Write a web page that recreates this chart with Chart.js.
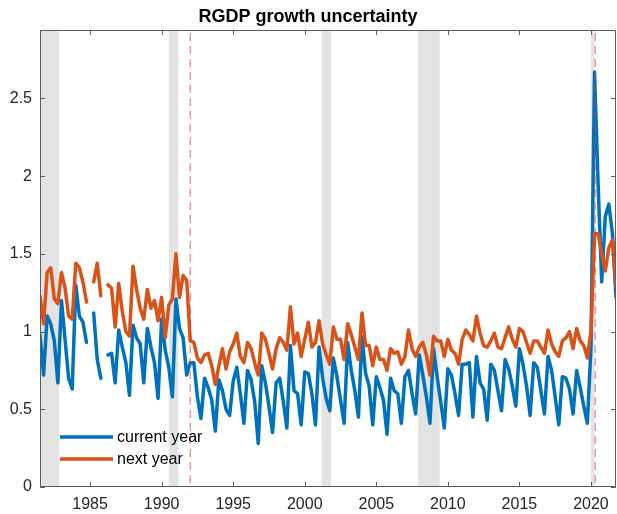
<!DOCTYPE html>
<html>
<head>
<meta charset="utf-8">
<title>RGDP growth uncertainty</title>
<script src="https://cdn.jsdelivr.net/npm/chart.js@4.4.0/dist/chart.umd.min.js"></script>
<style>
  html, body { margin: 0; padding: 0; background: #ffffff; }
  canvas { display: block; }
</style>
</head>
<body>
<canvas id="chart" width="617" height="514"></canvas>
<script>
// Quarterly observations, first one is 1981 Q3 (1981.5); null marks a missing survey.
const firstQuarter = 1981.5;

// Uncertainty about current-year real GDP growth
const currentYear = [
  0.98, 0.72,
  1.10, 1.05, 0.94, 0.67,   // 1982
  1.20, 0.95, 0.70, 0.63,   // 1983
  1.30, 1.10, 1.06, 0.93,   // 1984
  null, 1.12, 0.82, 0.70,   // 1985
  null, 0.85, 0.86, 0.67,   // 1986
  1.01, 0.90, 0.80, 0.59,   // 1987
  1.04, 0.96, 0.92, 0.67,   // 1988
  1.02, 0.90, 0.80, 0.57,   // 1989
  1.08, 0.88, 0.77, 0.58,   // 1990
  1.21, 1.02, 0.96, 0.72,   // 1991
  0.80, 0.80, 0.58, 0.44,   // 1992
  0.70, 0.64, 0.56, 0.36,   // 1993
  0.69, 0.62, 0.50, 0.46,   // 1994
  0.68, 0.77, 0.60, 0.41,   // 1995
  0.75, 0.69, 0.55, 0.28,   // 1996
  0.78, 0.67, 0.52, 0.35,   // 1997
  0.67, 0.70, 0.55, 0.38,   // 1998
  0.91, 0.62, 0.60, 0.40,   // 1999
  0.74, 0.73, 0.60, 0.40,   // 2000
  0.90, 0.70, 0.57, 0.49,   // 2001
  0.83, 0.71, 0.56, 0.41,   // 2002
  0.93, 0.75, 0.62, 0.45,   // 2003
  0.97, 0.73, 0.65, 0.40,   // 2004
  0.71, 0.64, 0.56, 0.34,   // 2005
  0.70, 0.62, 0.60, 0.41,   // 2006
  0.71, 0.75, 0.60, 0.47,   // 2007
  0.85, 0.72, 0.58, 0.41,   // 2008
  0.89, 0.71, 0.55, 0.38,   // 2009
  0.76, 0.72, 0.60, 0.46,   // 2010
  0.79, 0.79, 0.80, 0.45,   // 2011
  0.84, 0.67, 0.63, 0.43,   // 2012
  0.79, 0.75, 0.62, 0.49,   // 2013
  0.82, 0.76, 0.65, 0.52,   // 2014
  0.89, 0.79, 0.65, 0.46,   // 2015
  0.80, 0.77, 0.62, 0.47,   // 2016
  0.84, 0.75, 0.58, 0.40,   // 2017
  0.71, 0.70, 0.63, 0.47,   // 2018
  0.75, 0.64, 0.52, 0.41,   // 2019
  0.90, 2.67, 1.95, 1.32,   // 2020
  1.74, 1.82, 1.63, 1.22    // 2021
];

// Uncertainty about next-year real GDP growth
const nextYear = [
  1.23, 1.05,
  1.38, 1.41, 1.21, 1.18,   // 1982
  1.38, 1.28, 1.10, 1.08,   // 1983
  1.44, 1.41, 1.32, 1.19,   // 1984
  null, 1.32, 1.44, 1.23,   // 1985
  null, 1.30, 1.28, 1.03,   // 1986
  1.31, 1.13, 1.00, 0.97,   // 1987
  1.42, 1.27, 1.15, 1.08,   // 1988
  1.27, 1.15, 1.20, 1.07,   // 1989
  1.22, 0.96, 1.17, 1.21,   // 1990
  1.50, 1.22, 1.36, 1.33,   // 1991
  0.94, 0.93, 0.83, 0.80,   // 1992
  0.85, 0.86, 0.78, 0.66,   // 1993
  0.78, 0.89, 0.76, 0.87,   // 1994
  0.92, 0.99, 0.84, 0.80,   // 1995
  0.93, 0.89, 0.80, 0.72,   // 1996
  0.99, 0.95, 0.86, 0.76,   // 1997
  0.89, 0.96, 0.93, 0.88,   // 1998
  1.16, 0.92, 0.99, 0.84,   // 1999
  0.95, 1.06, 0.90, 0.93,   // 2000
  1.07, 0.92, 0.85, 0.79,   // 2001
  1.03, 0.95, 0.95, 0.82,   // 2002
  1.05, 0.98, 0.90, 0.82,   // 2003
  1.12, 0.91, 0.91, 0.78,   // 2004
  0.90, 0.82, 0.82, 0.75,   // 2005
  0.89, 0.86, 0.87, 0.79,   // 2006
  0.84, 1.01, 0.89, 0.84,   // 2007
  0.90, 0.93, 0.85, 0.72,   // 2008
  0.97, 0.94, 0.94, 0.84,   // 2009
  0.95, 0.88, 0.86, 0.79,   // 2010
  0.95, 1.01, 0.98, 0.94,   // 2011
  1.10, 0.99, 0.91, 0.90,   // 2012
  0.94, 0.99, 0.90, 0.89,   // 2013
  0.96, 1.03, 0.95, 0.90,   // 2014
  1.02, 1.00, 0.93, 0.86,   // 2015
  0.94, 0.94, 0.90, 0.86,   // 2016
  1.01, 0.92, 0.87, 0.84,   // 2017
  0.94, 0.96, 1.00, 0.89,   // 2018
  1.02, 0.94, 0.91, 0.83,   // 2019
  1.00, 1.63, 1.63, 1.50,   // 2020
  1.39, 1.54, 1.59, 1.29    // 2021
];

const seriesLabels = ['current year', 'next year'];
const seriesColors = ['#0072BD', '#D95319'];

const xTickYears = [1985, 1990, 1995, 2000, 2005, 2010, 2015, 2020];
const yTickValues = [0, 0.5, 1, 1.5, 2, 2.5];

// NBER recession periods (shaded)
const recessionStart = [1981.5, 1990.5, 2001.17, 2007.92, 2020.0];
const recessionEnd   = [1982.83, 1991.17, 2001.83, 2009.42, 2020.25];

// Dates marked with dashed vertical lines
const markerDates = [1992.0, 2020.3];

const FONT = "'Liberation Sans', Arial, Helvetica, sans-serif";
const AXIS_COLOR = '#262626';
const BOX_COLOR = '#5c5c5c';

const quarterDates = currentYear.map((_, i) => firstQuarter + i * 0.25);
const toPoints = values => quarterDates.map((x, i) => ({ x: x, y: values[i] }));

// Shaded recession bands behind the lines
const recessionBands = {
  id: 'recessionBands',
  beforeDatasetsDraw(chart) {
    const { ctx, chartArea: a, scales: { x } } = chart;
    ctx.save();
    ctx.fillStyle = '#e3e3e3';
    recessionStart.forEach((s, i) => {
      const x0 = Math.max(x.getPixelForValue(s), a.left);
      const x1 = Math.min(x.getPixelForValue(recessionEnd[i]), a.right);
      ctx.fillRect(x0, a.top, x1 - x0, a.bottom - a.top);
    });
    ctx.restore();
  }
};

// Dashed vertical marker lines over the series
const markerLines = {
  id: 'markerLines',
  afterDatasetsDraw(chart) {
    const { ctx, chartArea: a, scales: { x } } = chart;
    ctx.save();
    ctx.strokeStyle = 'rgba(235, 50, 50, 0.5)';
    ctx.lineWidth = 1.5;
    ctx.setLineDash([8, 5]);
    markerDates.forEach(d => {
      const px = x.getPixelForValue(d);
      ctx.beginPath();
      ctx.moveTo(px, a.top + 3);
      ctx.lineTo(px, a.bottom);
      ctx.stroke();
    });
    ctx.restore();
  }
};

// Axes box, inward tick marks on all sides, and the legend
const axesFrame = {
  id: 'axesFrame',
  afterDraw(chart) {
    const { ctx, chartArea: a, scales: { x, y } } = chart;
    const tl = 5;
    ctx.save();
    ctx.strokeStyle = BOX_COLOR;
    ctx.lineWidth = 1;
    ctx.beginPath();
    ctx.rect(a.left + 0.5, a.top + 0.5, a.right - a.left - 1, a.bottom - a.top - 1);
    xTickYears.forEach(v => {
      const px = Math.round(x.getPixelForValue(v)) + 0.5;
      ctx.moveTo(px, a.bottom); ctx.lineTo(px, a.bottom - tl);
      ctx.moveTo(px, a.top); ctx.lineTo(px, a.top + tl);
    });
    yTickValues.forEach(v => {
      const py = Math.round(y.getPixelForValue(v)) + 0.5;
      ctx.moveTo(a.left, py); ctx.lineTo(a.left + tl, py);
      ctx.moveTo(a.right, py); ctx.lineTo(a.right - tl, py);
    });
    ctx.stroke();

    // legend, lower left inside the axes
    const lx0 = a.left + 20, lx1 = a.left + 73, ly0 = 437, dy = 22;
    ctx.font = '16px ' + FONT;
    ctx.textBaseline = 'middle';
    ctx.textAlign = 'left';
    seriesLabels.forEach((label, i) => {
      const ly = ly0 + i * dy;
      ctx.strokeStyle = seriesColors[i];
      ctx.lineWidth = 3.5;
      ctx.beginPath();
      ctx.moveTo(lx0, ly); ctx.lineTo(lx1, ly);
      ctx.stroke();
      ctx.fillStyle = '#000000';
      ctx.fillText(label, lx1 + 4, ly + 1);
    });
    ctx.restore();
  }
};

new Chart(document.getElementById('chart'), {
  type: 'line',
  data: {
    datasets: [
      {
        label: seriesLabels[0],
        data: toPoints(currentYear),
        borderColor: seriesColors[0],
        borderWidth: 3.5,
        pointRadius: 0,
        tension: 0,
        spanGaps: false,
        borderJoinStyle: 'round',
        borderCapStyle: 'round',
        order: 1
      },
      {
        label: seriesLabels[1],
        data: toPoints(nextYear),
        borderColor: seriesColors[1],
        borderWidth: 3.5,
        pointRadius: 0,
        tension: 0,
        spanGaps: false,
        borderJoinStyle: 'round',
        borderCapStyle: 'round',
        order: 0
      }
    ]
  },
  options: {
    responsive: false,
    animation: false,
    devicePixelRatio: 1,
    layout: { padding: { left: 0, right: 1, top: 0, bottom: 0 } },
    plugins: {
      legend: { display: false },
      tooltip: { enabled: false },
      title: {
        display: true,
        text: 'RGDP growth uncertainty',
        color: '#000000',
        font: { family: FONT, size: 18, weight: 'bold', lineHeight: 1.2 },
        padding: { top: 6, bottom: 2.4 }
      }
    },
    scales: {
      x: {
        type: 'linear',
        min: 1981.5,
        max: 2021.75,
        grid: { display: false, drawTicks: false },
        border: { display: false },
        ticks: {
          color: AXIS_COLOR,
          font: { family: FONT, size: 16 },
          padding: 8,
          autoSkip: false,
          maxRotation: 0,
          callback: v => String(v)
        },
        afterBuildTicks: s => { s.ticks = xTickYears.map(v => ({ value: v })); },
        afterFit: s => { s.height = 27; }
      },
      y: {
        type: 'linear',
        min: 0,
        max: 2.94,
        grid: { display: false, drawTicks: false },
        border: { display: false },
        ticks: {
          color: AXIS_COLOR,
          font: { family: FONT, size: 16 },
          padding: 8,
          callback: v => String(v)
        },
        afterBuildTicks: s => { s.ticks = yTickValues.map(v => ({ value: v })); },
        afterFit: s => { s.width = 40; }
      }
    }
  },
  plugins: [recessionBands, markerLines, axesFrame]
});
</script>
</body>
</html>
